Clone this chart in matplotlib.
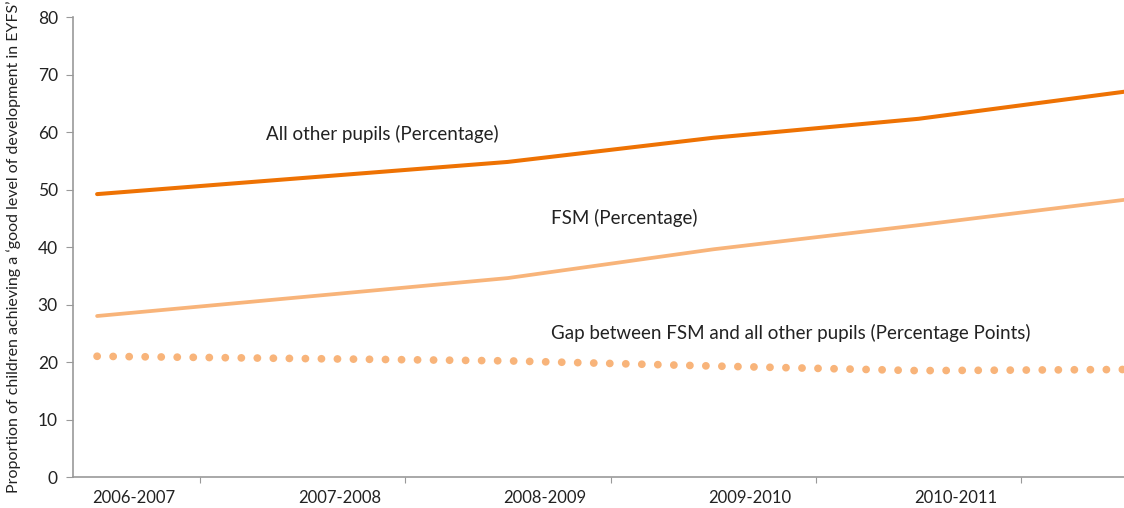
import numpy as np
from matplotlib import pyplot as plt

years = ["2006-2007", "2007-2008", "2008-2009", "2009-2010", "2010-2011"]
all_other = [49.2, 52.0, 54.8, 59.0, 62.3, 67.0]
fsm = [28.0, 31.3, 34.6, 39.6, 43.8, 48.2]
gap = [21.0, 20.6, 20.2, 19.3, 18.5, 18.7]

dark = "#EE7203"
light = "#F8B47A"
txt = "#222222"

plt.rcParams['font.family'] = ['Lato', 'DejaVu Sans']

fig = plt.figure(figsize=(11.24, 5.08), dpi=100)
ax = fig.add_axes([0.065, 0.061, 0.935, 0.9055])

x = np.arange(len(all_other))
ax.plot(x, all_other, color=dark, lw=2.9, solid_capstyle='round', clip_on=False)
ax.plot(x, fsm, color=light, lw=2.7, solid_capstyle='round', clip_on=False)
ax.plot(x, gap, color=light, lw=5.6, ls=(0, (0.01, 2.05)),
        dash_capstyle='round', clip_on=False)

ax.text(0.82, 59.7, "All other pupils (Percentage)", fontsize=13.5, color=txt, va='center')
ax.text(2.21, 45.1, "FSM (Percentage)", fontsize=13.5, color=txt, va='center')
ax.text(2.21, 25.0, "Gap between FSM and all other pupils (Percentage Points)",
        fontsize=13.5, color=txt, va='center')

ax.set_xlim(-0.117, 5.0)
ax.set_ylim(0, 80)
ax.set_yticks(range(0, 81, 10))
ax.set_xticks([k + 0.5 for k in range(len(years))])
ax.set_xticklabels([])
ax.set_xticks([k + 0.18 for k in range(len(years))], minor=True)
ax.set_xticklabels(years, minor=True)
ax.tick_params(axis='x', which='minor', length=0, pad=9, labelsize=12, labelcolor=txt)
ax.tick_params(axis='x', which='major', length=4, color='#999999', direction='out')
ax.tick_params(axis='y', length=5, color='#999999', labelsize=12.5, labelcolor=txt, pad=6)

for s in ['top', 'right']:
    ax.spines[s].set_visible(False)
for s in ['left', 'bottom']:
    ax.spines[s].set_color('#999999')
    ax.spines[s].set_linewidth(1.2)

ax.set_ylabel("Proportion of children achieving a \u2018good level of development in EYFS\u2019",
              fontsize=11.5, color=txt, labelpad=12)

fig.savefig("out.png", dpi=100)
